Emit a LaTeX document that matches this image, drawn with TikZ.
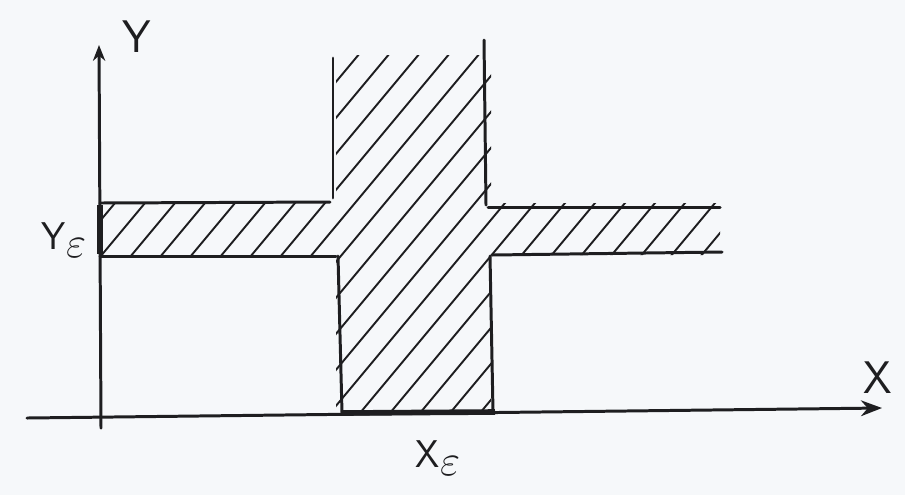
\documentclass[tikz,border=0pt]{standalone}
\usepackage{xcolor}
\definecolor{pencil}{RGB}{30, 30, 32}
\definecolor{paper}{RGB}{246, 248, 250}
\usetikzlibrary{arrows.meta, positioning}

\tikzset{
  pen/.style={line width=1.7pt, pencil, line cap=round},
  hatchline/.style={line width=1.1pt, pencil, line cap=round},
  handlabel/.style={font=\sffamily\fontsize{26}{28}\selectfont, pencil},
  sublabel/.style={font=\sffamily\fontsize{22}{24}\selectfont, pencil}
}
\newcommand{\epsub}{\raisebox{-0.45ex}{\fontsize{24}{26}\selectfont$\varepsilon$}}

\begin{document}
\begin{tikzpicture}[x=0.02cm, y=-0.02cm]

  % paper and bounding box
  \fill[paper] (0, 0) rectangle (905, 495);
  \useasboundingbox (0, 0) rectangle (905, 495);

  % hatching of the cross (two strips)
  \begin{scope}
    \clip (100, 203) rectangle (720, 255) (336, 55) rectangle (491, 413);
    \foreach \c in {-330, -300, ..., 720} {
      \draw[hatchline] (\c, 413) -- ++(400, -480);
    }
  \end{scope}

  % axes
  \coordinate (xstart) at (27, 418);
  \coordinate (xend) at (882, 408);
  \coordinate (ystart) at (101, 428);
  \coordinate (yend) at (99, 45);
  \draw[pen, -{Stealth[length=12pt, width=9pt]}] (xstart) -- (xend);
  \draw[pen, -{Stealth[length=9pt, width=7pt]}] (ystart) -- (yend);

  % horizontal strip outline
  \draw[pen] (100, 203) -- (330, 202);
  \draw[pen] (488, 207) -- (720, 207);
  \draw[pen] (100, 256) -- (336, 256);
  \draw[pen] (492, 255) -- (722, 252);

  % vertical strip outline
  \draw[pen] (333, 58) -- (333, 198);
  \draw[pen] (484, 40) -- (486, 205);
  \draw[pen] (338, 256) -- (342, 413);
  \draw[pen] (490, 256) -- (493, 412);

  % the two epsilon widths on the axes
  \draw[pencil, line width=3.2pt] (100, 205) -- (100, 254);
  \draw[pencil, line width=3.2pt] (342, 413) -- (495, 412);

  % labels
  \node[handlabel] (ylabel) at (137, 37) {Y};
  \node[handlabel] (xlabel) at (878, 378) {X};
  \node[sublabel] (yeps) at (64, 240) {Y\epsub};
  \node[sublabel] (xeps) at (438, 458) {X\epsub};

\end{tikzpicture}
\end{document}
